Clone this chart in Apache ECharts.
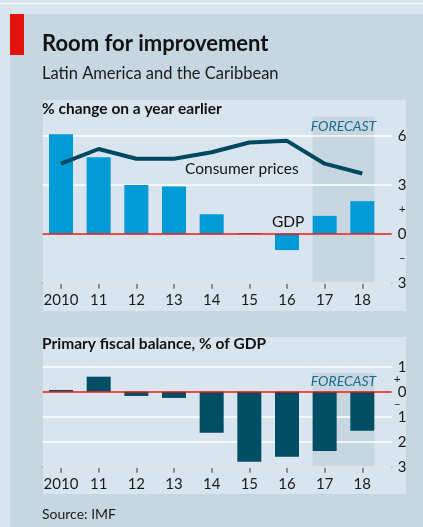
<!DOCTYPE html>
<html>
<head>
<meta charset="utf-8">
<script src="https://cdn.jsdelivr.net/npm/echarts@6/dist/echarts.min.js"></script>
<style>
html, body { margin: 0; padding: 0; background: #d9e5ee; }
#chart { width: 423px; height: 527px; }
</style>
</head>
<body>
<div id="chart"></div>
<script>
// data
var years = ['2010', '11', '12', '13', '14', '15', '16', '17', '18'];
var gdp = [6.1, 4.7, 3.0, 2.9, 1.2, 0.05, -1.0, 1.1, 2.0];
var consumerPrices = [4.3, 5.2, 4.6, 4.6, 5.0, 5.6, 5.7, 4.3, 3.7];
var fiscalBalance = [0.07, 0.6, -0.17, -0.25, -1.64, -2.8, -2.6, -2.37, -1.56];
var topTicks = [-3, 0, 3, 6];
var topSigns = [-1.5, 1.5];
var bottomTicks = [-3, -2, -1, 0, 1];
var bottomSigns = [-0.5, 0.5];
var forecastStart = 7;

var FONT = 'Lato';
var yearIdx = years.map(function (y, i) { return i; });

function pairs(arr) {
    return arr.map(function (v, i) { return [i, v]; });
}

var myChart = echarts.init(document.getElementById('chart'));

function xAxisFor(gridIndex) {
    return {
        type: 'value',
        gridIndex: gridIndex,
        min: -0.486,
        max: 8.78,
        axisLine: { onZero: false, lineStyle: { color: '#6d7378', width: 1.5 } },
        axisTick: { show: true, customValues: yearIdx, length: 6, lineStyle: { color: '#6d7378', width: 1.5 } },
        axisLabel: {
            customValues: yearIdx,
            margin: 10,
            color: '#1a1a1a',
            fontFamily: FONT,
            fontSize: 15,
            formatter: function (v) { return years[Math.round(v)]; }
        },
        splitLine: { show: false }
    };
}

function yAxisFor(gridIndex, min, max, ticks) {
    return {
        type: 'value',
        gridIndex: gridIndex,
        position: 'right',
        min: min,
        max: max,
        z: 1,
        axisLine: { show: false },
        axisTick: { show: false, customValues: ticks },
        axisLabel: {
            customValues: ticks,
            showMinLabel: true,
            showMaxLabel: true,
            margin: 6,
            color: '#1a1a1a',
            fontFamily: FONT,
            fontSize: 15,
            formatter: function (v) { return String(Math.abs(v)); }
        },
        splitLine: { show: true, lineStyle: { color: '#ffffff', width: 1.5 } }
    };
}

// second axis on each panel only carries the + / – markers
function signAxisFor(gridIndex, min, max, signs, margin) {
    return {
        type: 'value',
        gridIndex: gridIndex,
        position: 'right',
        min: min,
        max: max,
        axisLine: { show: false },
        axisTick: { show: false, customValues: signs },
        splitLine: { show: false },
        axisLabel: {
            customValues: signs,
            margin: margin,
            color: '#1a1a1a',
            fontFamily: FONT,
            fontSize: 12,
            formatter: function (v) { return v > 0 ? '+' : '\u2013'; }
        }
    };
}

var shadeFrom = forecastStart - 0.32;
var shadeTo = years.length - 1 + 0.32;

var option = {
    animation: false,
    backgroundColor: '#d9e5ee',
    graphic: [
        { type: 'rect', z: -10, shape: { x: 10, y: 14, width: 413, height: 513 }, style: { fill: '#c7d7e2' } },
        { type: 'rect', z: -10, shape: { x: 0, y: 3, width: 423, height: 1.5 }, style: { fill: '#f4f7fa' } },
        { type: 'rect', z: -9, shape: { x: 10, y: 14, width: 14, height: 41 }, style: { fill: '#e3120b' } },
        { type: 'rect', z: -9, shape: { x: 43, y: 100, width: 363, height: 211 }, style: { fill: '#d9e5ee' } },
        { type: 'rect', z: -9, shape: { x: 43, y: 337, width: 363, height: 157 }, style: { fill: '#d9e5ee' } },
        { type: 'text', left: 42, top: 33, style: { text: 'Room for improvement', font: 'bold 22px ' + FONT, fill: '#121212' } },
        { type: 'text', left: 42, top: 65, style: { text: 'Latin America and the Caribbean', font: '16.5px ' + FONT, fill: '#1a1a1a' } },
        { type: 'text', left: 42, top: 101, style: { text: '% change on a year earlier', font: 'bold 15.5px ' + FONT, fill: '#121212' } },
        { type: 'text', left: 42, top: 336, style: { text: 'Primary fiscal balance, % of GDP', font: 'bold 15.5px ' + FONT, fill: '#121212' } },
        { type: 'text', left: 42, top: 507, style: { text: 'Source: IMF', font: '14px ' + FONT, fill: '#1a1a1a' } },
        { type: 'text', left: 185, top: 161, z: 10, style: { text: 'Consumer prices', font: '15.5px ' + FONT, fill: '#121212' } },
        { type: 'text', left: 272, top: 214, z: 10, style: { text: 'GDP', font: '15.5px ' + FONT, fill: '#121212' } }
    ],
    grid: [
        { left: 42.7, right: 31.3, top: 116.4, bottom: 244.3 },
        { left: 42.7, right: 31.3, top: 366.7, bottom: 60.3 }
    ],
    xAxis: [xAxisFor(0), xAxisFor(1)],
    yAxis: [
        yAxisFor(0, -3, 7.2, topTicks),
        yAxisFor(1, -3, 1, bottomTicks),
        signAxisFor(0, -3, 7.2, topSigns, 7),
        signAxisFor(1, -3, 1, bottomSigns, 2)
    ],
    series: [
        {
            name: 'GDP',
            type: 'bar',
            xAxisIndex: 0,
            yAxisIndex: 0,
            barWidth: 24,
            data: pairs(gdp),
            itemStyle: { color: '#009ad7' },
            markArea: {
                z: 0,
                silent: true,
                itemStyle: { color: '#c7d7e2' },
                label: {
                    show: true,
                    position: 'insideTop',
                    distance: 3,
                    color: '#1d6b8a',
                    fontStyle: 'italic',
                    fontFamily: FONT,
                    fontSize: 14
                },
                data: [[{ name: 'FORECAST', xAxis: shadeFrom }, { xAxis: shadeTo }]]
            },
            markLine: {
                silent: true,
                symbol: 'none',
                label: { show: false },
                lineStyle: { color: '#e3120b', width: 1.5, type: 'solid' },
                data: [{ yAxis: 0 }]
            }
        },
        {
            name: 'Consumer prices',
            type: 'line',
            xAxisIndex: 0,
            yAxisIndex: 0,
            z: 4,
            data: pairs(consumerPrices),
            showSymbol: false,
            lineStyle: { color: '#00485f', width: 4 }
        },
        {
            name: 'Primary fiscal balance',
            type: 'bar',
            xAxisIndex: 1,
            yAxisIndex: 1,
            barWidth: 24,
            data: pairs(fiscalBalance),
            itemStyle: { color: '#004d66' },
            markArea: {
                z: 0,
                silent: true,
                itemStyle: { color: '#c7d7e2' },
                label: {
                    show: true,
                    position: 'insideTop',
                    distance: 2,
                    color: '#1d6b8a',
                    fontStyle: 'italic',
                    fontFamily: FONT,
                    fontSize: 14
                },
                data: [[{ name: 'FORECAST', xAxis: shadeFrom, yAxis: 0.75 }, { xAxis: shadeTo, yAxis: -3 }]]
            },
            markLine: {
                silent: true,
                symbol: 'none',
                label: { show: false },
                lineStyle: { color: '#e3120b', width: 1.5, type: 'solid' },
                data: [{ yAxis: 0 }]
            }
        }
    ]
};
myChart.setOption(option);
</script>
</body>
</html>
